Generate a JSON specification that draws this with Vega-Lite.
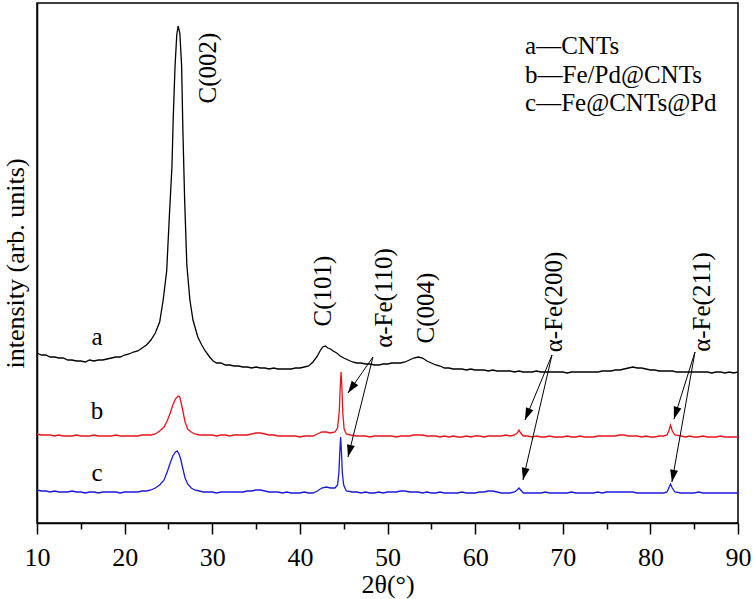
{
  "$schema": "https://vega.github.io/schema/vega-lite/v6.json",
  "width": 701,
  "height": 520,
  "autosize": {"type": "none"},
  "padding": {"left": 37, "top": 3, "right": 15, "bottom": 76},
  "background": "white",
  "config": {
    "font": "Liberation Serif",
    "view": {"stroke": "#000", "strokeWidth": 1.5},
    "axis": {"labelFont": "Liberation Serif", "titleFont": "Liberation Serif", "labelColor": "#000", "titleColor": "#000", "domainColor": "#000", "tickColor": "#000", "titleFontWeight": "normal"}
  },
  "datasets": {
    "curves": [
      {"s":"a","x":10.0,"y":170},{"s":"a","x":10.5,"y":168},{"s":"a","x":11.0,"y":168},{"s":"a","x":11.5,"y":166},{"s":"a","x":12.0,"y":166},{"s":"a","x":12.5,"y":165},{"s":"a","x":13.0,"y":165},{"s":"a","x":13.5,"y":163},{"s":"a","x":14.0,"y":163},{"s":"a","x":14.5,"y":162},{"s":"a","x":15.0,"y":162},{"s":"a","x":15.5,"y":161},{"s":"a","x":16.0,"y":163},{"s":"a","x":16.5,"y":162},{"s":"a","x":17.0,"y":163},{"s":"a","x":17.5,"y":163},{"s":"a","x":18.0,"y":164},{"s":"a","x":18.5,"y":165},{"s":"a","x":19.0,"y":166},{"s":"a","x":19.5,"y":166},{"s":"a","x":20.0,"y":168},{"s":"a","x":20.5,"y":169},{"s":"a","x":21.0,"y":171},{"s":"a","x":21.5,"y":172},{"s":"a","x":22.0,"y":175},{"s":"a","x":22.5,"y":178},{"s":"a","x":23.0,"y":183},{"s":"a","x":23.5,"y":190},{"s":"a","x":24.0,"y":201},{"s":"a","x":24.4,"y":223},{"s":"a","x":24.8,"y":252},{"s":"a","x":25.1,"y":306},{"s":"a","x":25.4,"y":356},{"s":"a","x":25.55,"y":406},{"s":"a","x":25.75,"y":456},{"s":"a","x":25.95,"y":488},{"s":"a","x":26.1,"y":497},{"s":"a","x":26.3,"y":490},{"s":"a","x":26.5,"y":458},{"s":"a","x":26.65,"y":392},{"s":"a","x":26.85,"y":323},{"s":"a","x":27.1,"y":258},{"s":"a","x":27.45,"y":223},{"s":"a","x":27.8,"y":203},{"s":"a","x":28.35,"y":186},{"s":"a","x":28.8,"y":178},{"s":"a","x":29.2,"y":172},{"s":"a","x":29.7,"y":166},{"s":"a","x":30.1,"y":162},{"s":"a","x":30.5,"y":160},{"s":"a","x":31.0,"y":160},{"s":"a","x":31.5,"y":158},{"s":"a","x":32.0,"y":158},{"s":"a","x":32.5,"y":157},{"s":"a","x":33.0,"y":157},{"s":"a","x":33.5,"y":156},{"s":"a","x":34.0,"y":156},{"s":"a","x":34.5,"y":155},{"s":"a","x":35.0,"y":156},{"s":"a","x":35.5,"y":155},{"s":"a","x":36.0,"y":155},{"s":"a","x":36.5,"y":154},{"s":"a","x":37.0,"y":155},{"s":"a","x":37.5,"y":154},{"s":"a","x":38.0,"y":154},{"s":"a","x":38.5,"y":154},{"s":"a","x":39.0,"y":154},{"s":"a","x":39.5,"y":155},{"s":"a","x":40.0,"y":155},{"s":"a","x":40.5,"y":156},{"s":"a","x":41.0,"y":157},{"s":"a","x":41.5,"y":161},{"s":"a","x":42.0,"y":167},{"s":"a","x":42.3,"y":172},{"s":"a","x":42.6,"y":176},{"s":"a","x":42.9,"y":177},{"s":"a","x":43.2,"y":175},{"s":"a","x":43.5,"y":174},{"s":"a","x":43.8,"y":172},{"s":"a","x":44.2,"y":170},{"s":"a","x":44.6,"y":167},{"s":"a","x":45.0,"y":165},{"s":"a","x":45.5,"y":163},{"s":"a","x":46.0,"y":161},{"s":"a","x":46.5,"y":160},{"s":"a","x":47.0,"y":160},{"s":"a","x":47.5,"y":159},{"s":"a","x":48.0,"y":159},{"s":"a","x":48.5,"y":158},{"s":"a","x":49.0,"y":158},{"s":"a","x":49.5,"y":159},{"s":"a","x":50.0,"y":159},{"s":"a","x":50.5,"y":160},{"s":"a","x":51.0,"y":160},{"s":"a","x":51.5,"y":160},{"s":"a","x":52.0,"y":161},{"s":"a","x":52.5,"y":163},{"s":"a","x":53.0,"y":165},{"s":"a","x":53.5,"y":166},{"s":"a","x":54.0,"y":165},{"s":"a","x":54.5,"y":162},{"s":"a","x":55.0,"y":160},{"s":"a","x":55.5,"y":158},{"s":"a","x":56.0,"y":157},{"s":"a","x":56.5,"y":155},{"s":"a","x":57.0,"y":155},{"s":"a","x":57.5,"y":154},{"s":"a","x":58.0,"y":154},{"s":"a","x":58.5,"y":154},{"s":"a","x":59.0,"y":153},{"s":"a","x":59.5,"y":154},{"s":"a","x":60.0,"y":153},{"s":"a","x":60.5,"y":153},{"s":"a","x":61.0,"y":153},{"s":"a","x":61.5,"y":152},{"s":"a","x":62.0,"y":153},{"s":"a","x":62.5,"y":152},{"s":"a","x":63.0,"y":152},{"s":"a","x":63.5,"y":152},{"s":"a","x":64.0,"y":152},{"s":"a","x":64.5,"y":151},{"s":"a","x":65.0,"y":152},{"s":"a","x":65.5,"y":151},{"s":"a","x":66.0,"y":151},{"s":"a","x":66.5,"y":151},{"s":"a","x":67.0,"y":152},{"s":"a","x":67.5,"y":151},{"s":"a","x":68.0,"y":151},{"s":"a","x":68.5,"y":151},{"s":"a","x":69.0,"y":151},{"s":"a","x":69.5,"y":151},{"s":"a","x":70.0,"y":151},{"s":"a","x":70.5,"y":150},{"s":"a","x":71.0,"y":151},{"s":"a","x":71.5,"y":151},{"s":"a","x":72.0,"y":151},{"s":"a","x":72.5,"y":151},{"s":"a","x":73.0,"y":151},{"s":"a","x":73.5,"y":151},{"s":"a","x":74.0,"y":151},{"s":"a","x":74.5,"y":152},{"s":"a","x":75.0,"y":152},{"s":"a","x":75.5,"y":152},{"s":"a","x":76.0,"y":153},{"s":"a","x":76.5,"y":153},{"s":"a","x":77.0,"y":154},{"s":"a","x":77.5,"y":155},{"s":"a","x":78.0,"y":156},{"s":"a","x":78.5,"y":155},{"s":"a","x":79.0,"y":155},{"s":"a","x":79.5,"y":154},{"s":"a","x":80.0,"y":153},{"s":"a","x":80.5,"y":153},{"s":"a","x":81.0,"y":152},{"s":"a","x":81.5,"y":152},{"s":"a","x":82.0,"y":152},{"s":"a","x":82.5,"y":152},{"s":"a","x":83.0,"y":151},{"s":"a","x":83.5,"y":151},{"s":"a","x":84.0,"y":151},{"s":"a","x":84.5,"y":151},{"s":"a","x":85.0,"y":151},{"s":"a","x":85.5,"y":151},{"s":"a","x":86.0,"y":151},{"s":"a","x":86.5,"y":151},{"s":"a","x":87.0,"y":150},{"s":"a","x":87.5,"y":151},{"s":"a","x":88.0,"y":151},{"s":"a","x":88.5,"y":150},{"s":"a","x":89.0,"y":151},{"s":"a","x":89.5,"y":150},{"s":"a","x":90.0,"y":151},

      {"s":"b","x":10.0,"y":89},{"s":"b","x":10.5,"y":88},{"s":"b","x":11.0,"y":88},{"s":"b","x":11.5,"y":88},{"s":"b","x":12.0,"y":87},{"s":"b","x":12.5,"y":88},{"s":"b","x":13.0,"y":87},{"s":"b","x":13.5,"y":87},{"s":"b","x":14.0,"y":87},{"s":"b","x":14.5,"y":88},{"s":"b","x":15.0,"y":87},{"s":"b","x":15.5,"y":87},{"s":"b","x":16.0,"y":87},{"s":"b","x":16.5,"y":88},{"s":"b","x":17.0,"y":87},{"s":"b","x":17.5,"y":87},{"s":"b","x":18.0,"y":87},{"s":"b","x":18.5,"y":87},{"s":"b","x":19.0,"y":88},{"s":"b","x":19.5,"y":87},{"s":"b","x":20.0,"y":87},{"s":"b","x":20.5,"y":87},{"s":"b","x":21.0,"y":87},{"s":"b","x":21.5,"y":87},{"s":"b","x":22.0,"y":88},{"s":"b","x":22.5,"y":88},{"s":"b","x":23.0,"y":88},{"s":"b","x":23.5,"y":89},{"s":"b","x":24.0,"y":92},{"s":"b","x":24.5,"y":96},{"s":"b","x":24.9,"y":103},{"s":"b","x":25.2,"y":110},{"s":"b","x":25.5,"y":118},{"s":"b","x":25.8,"y":124},{"s":"b","x":26.1,"y":127},{"s":"b","x":26.3,"y":126},{"s":"b","x":26.6,"y":114},{"s":"b","x":26.9,"y":101},{"s":"b","x":27.2,"y":94},{"s":"b","x":27.6,"y":91},{"s":"b","x":28.0,"y":89},{"s":"b","x":28.5,"y":88},{"s":"b","x":29.0,"y":88},{"s":"b","x":29.5,"y":88},{"s":"b","x":30.0,"y":88},{"s":"b","x":30.5,"y":87},{"s":"b","x":31.0,"y":88},{"s":"b","x":31.5,"y":88},{"s":"b","x":32.0,"y":87},{"s":"b","x":32.5,"y":88},{"s":"b","x":33.0,"y":88},{"s":"b","x":33.5,"y":88},{"s":"b","x":34.0,"y":88},{"s":"b","x":34.5,"y":89},{"s":"b","x":35.0,"y":90},{"s":"b","x":35.5,"y":90},{"s":"b","x":36.0,"y":89},{"s":"b","x":36.5,"y":88},{"s":"b","x":37.0,"y":88},{"s":"b","x":37.5,"y":87},{"s":"b","x":38.0,"y":87},{"s":"b","x":38.5,"y":87},{"s":"b","x":39.0,"y":87},{"s":"b","x":39.5,"y":87},{"s":"b","x":40.0,"y":86},{"s":"b","x":40.5,"y":87},{"s":"b","x":41.0,"y":87},{"s":"b","x":41.5,"y":87},{"s":"b","x":42.0,"y":89},{"s":"b","x":42.5,"y":91},{"s":"b","x":43.0,"y":91},{"s":"b","x":43.5,"y":90},{"s":"b","x":44.0,"y":91},{"s":"b","x":44.3,"y":95},{"s":"b","x":44.5,"y":112},{"s":"b","x":44.6,"y":135},{"s":"b","x":44.7,"y":151},{"s":"b","x":44.8,"y":135},{"s":"b","x":44.9,"y":110},{"s":"b","x":45.05,"y":94},{"s":"b","x":45.3,"y":89},{"s":"b","x":45.8,"y":88},{"s":"b","x":46.5,"y":87},{"s":"b","x":47.0,"y":87},{"s":"b","x":47.5,"y":87},{"s":"b","x":48.0,"y":86},{"s":"b","x":48.5,"y":87},{"s":"b","x":49.0,"y":87},{"s":"b","x":49.5,"y":87},{"s":"b","x":50.0,"y":87},{"s":"b","x":50.5,"y":87},{"s":"b","x":51.0,"y":86},{"s":"b","x":51.5,"y":87},{"s":"b","x":52.0,"y":87},{"s":"b","x":52.5,"y":87},{"s":"b","x":53.0,"y":88},{"s":"b","x":53.5,"y":88},{"s":"b","x":54.0,"y":88},{"s":"b","x":54.5,"y":87},{"s":"b","x":55.0,"y":87},{"s":"b","x":55.5,"y":87},{"s":"b","x":56.0,"y":86},{"s":"b","x":56.5,"y":87},{"s":"b","x":57.0,"y":86},{"s":"b","x":57.5,"y":87},{"s":"b","x":58.0,"y":86},{"s":"b","x":58.5,"y":86},{"s":"b","x":59.0,"y":87},{"s":"b","x":59.5,"y":86},{"s":"b","x":60.0,"y":87},{"s":"b","x":60.5,"y":87},{"s":"b","x":61.0,"y":86},{"s":"b","x":61.5,"y":87},{"s":"b","x":62.0,"y":87},{"s":"b","x":62.5,"y":87},{"s":"b","x":63.0,"y":87},{"s":"b","x":63.5,"y":88},{"s":"b","x":64.0,"y":87},{"s":"b","x":64.5,"y":88},{"s":"b","x":64.8,"y":90},{"s":"b","x":65.0,"y":93},{"s":"b","x":65.2,"y":90},{"s":"b","x":65.5,"y":87},{"s":"b","x":66.0,"y":87},{"s":"b","x":66.5,"y":86},{"s":"b","x":67.0,"y":87},{"s":"b","x":67.5,"y":86},{"s":"b","x":68.0,"y":86},{"s":"b","x":68.5,"y":87},{"s":"b","x":69.0,"y":86},{"s":"b","x":69.5,"y":86},{"s":"b","x":70.0,"y":86},{"s":"b","x":70.5,"y":87},{"s":"b","x":71.0,"y":86},{"s":"b","x":71.5,"y":86},{"s":"b","x":72.0,"y":87},{"s":"b","x":72.5,"y":86},{"s":"b","x":73.0,"y":86},{"s":"b","x":73.5,"y":86},{"s":"b","x":74.0,"y":87},{"s":"b","x":74.5,"y":87},{"s":"b","x":75.0,"y":87},{"s":"b","x":75.5,"y":87},{"s":"b","x":76.0,"y":87},{"s":"b","x":76.5,"y":88},{"s":"b","x":77.0,"y":88},{"s":"b","x":77.5,"y":87},{"s":"b","x":78.0,"y":87},{"s":"b","x":78.5,"y":87},{"s":"b","x":79.0,"y":86},{"s":"b","x":79.5,"y":87},{"s":"b","x":80.0,"y":86},{"s":"b","x":80.5,"y":86},{"s":"b","x":81.0,"y":87},{"s":"b","x":81.5,"y":87},{"s":"b","x":81.9,"y":88},{"s":"b","x":82.1,"y":92},{"s":"b","x":82.3,"y":98},{"s":"b","x":82.5,"y":92},{"s":"b","x":82.8,"y":88},{"s":"b","x":83.5,"y":87},{"s":"b","x":84.0,"y":86},{"s":"b","x":84.5,"y":87},{"s":"b","x":85.0,"y":86},{"s":"b","x":85.5,"y":86},{"s":"b","x":86.0,"y":87},{"s":"b","x":86.5,"y":86},{"s":"b","x":87.0,"y":86},{"s":"b","x":87.5,"y":86},{"s":"b","x":88.0,"y":87},{"s":"b","x":88.5,"y":86},{"s":"b","x":89.0,"y":86},{"s":"b","x":89.5,"y":86},{"s":"b","x":90.0,"y":86},

      {"s":"c","x":10.0,"y":33},{"s":"c","x":10.5,"y":32},{"s":"c","x":11.0,"y":32},{"s":"c","x":11.5,"y":31},{"s":"c","x":12.0,"y":32},{"s":"c","x":12.5,"y":31},{"s":"c","x":13.0,"y":31},{"s":"c","x":13.5,"y":31},{"s":"c","x":14.0,"y":32},{"s":"c","x":14.5,"y":31},{"s":"c","x":15.0,"y":31},{"s":"c","x":15.5,"y":30},{"s":"c","x":16.0,"y":31},{"s":"c","x":16.5,"y":31},{"s":"c","x":17.0,"y":30},{"s":"c","x":17.5,"y":31},{"s":"c","x":18.0,"y":31},{"s":"c","x":18.5,"y":31},{"s":"c","x":19.0,"y":31},{"s":"c","x":19.5,"y":30},{"s":"c","x":20.0,"y":31},{"s":"c","x":20.5,"y":31},{"s":"c","x":21.0,"y":31},{"s":"c","x":21.5,"y":31},{"s":"c","x":22.0,"y":32},{"s":"c","x":22.5,"y":32},{"s":"c","x":23.0,"y":33},{"s":"c","x":23.5,"y":35},{"s":"c","x":24.0,"y":38},{"s":"c","x":24.5,"y":43},{"s":"c","x":24.9,"y":52},{"s":"c","x":25.2,"y":60},{"s":"c","x":25.5,"y":67},{"s":"c","x":25.8,"y":71},{"s":"c","x":26.0,"y":72},{"s":"c","x":26.2,"y":69},{"s":"c","x":26.4,"y":64},{"s":"c","x":26.6,"y":56},{"s":"c","x":26.9,"y":45},{"s":"c","x":27.2,"y":39},{"s":"c","x":27.6,"y":35},{"s":"c","x":28.0,"y":33},{"s":"c","x":28.5,"y":32},{"s":"c","x":29.0,"y":31},{"s":"c","x":29.5,"y":31},{"s":"c","x":30.0,"y":31},{"s":"c","x":30.5,"y":30},{"s":"c","x":31.0,"y":31},{"s":"c","x":31.5,"y":31},{"s":"c","x":32.0,"y":31},{"s":"c","x":32.5,"y":31},{"s":"c","x":33.0,"y":31},{"s":"c","x":33.5,"y":31},{"s":"c","x":34.0,"y":32},{"s":"c","x":34.5,"y":32},{"s":"c","x":35.0,"y":33},{"s":"c","x":35.5,"y":33},{"s":"c","x":36.0,"y":32},{"s":"c","x":36.5,"y":31},{"s":"c","x":37.0,"y":31},{"s":"c","x":37.5,"y":31},{"s":"c","x":38.0,"y":30},{"s":"c","x":38.5,"y":31},{"s":"c","x":39.0,"y":30},{"s":"c","x":39.5,"y":30},{"s":"c","x":40.0,"y":30},{"s":"c","x":40.5,"y":31},{"s":"c","x":41.0,"y":30},{"s":"c","x":41.5,"y":30},{"s":"c","x":42.0,"y":32},{"s":"c","x":42.5,"y":35},{"s":"c","x":43.0,"y":36},{"s":"c","x":43.5,"y":35},{"s":"c","x":44.0,"y":35},{"s":"c","x":44.3,"y":38},{"s":"c","x":44.45,"y":50},{"s":"c","x":44.55,"y":70},{"s":"c","x":44.65,"y":86},{"s":"c","x":44.75,"y":70},{"s":"c","x":44.85,"y":50},{"s":"c","x":45.0,"y":38},{"s":"c","x":45.3,"y":32},{"s":"c","x":46.0,"y":31},{"s":"c","x":46.5,"y":31},{"s":"c","x":47.0,"y":30},{"s":"c","x":47.5,"y":31},{"s":"c","x":48.0,"y":30},{"s":"c","x":48.5,"y":30},{"s":"c","x":49.0,"y":31},{"s":"c","x":49.5,"y":30},{"s":"c","x":50.0,"y":31},{"s":"c","x":50.5,"y":31},{"s":"c","x":51.0,"y":31},{"s":"c","x":51.5,"y":32},{"s":"c","x":52.0,"y":32},{"s":"c","x":52.5,"y":31},{"s":"c","x":53.0,"y":31},{"s":"c","x":53.5,"y":31},{"s":"c","x":54.0,"y":30},{"s":"c","x":54.5,"y":31},{"s":"c","x":55.0,"y":30},{"s":"c","x":55.5,"y":30},{"s":"c","x":56.0,"y":31},{"s":"c","x":56.5,"y":30},{"s":"c","x":57.0,"y":30},{"s":"c","x":57.5,"y":30},{"s":"c","x":58.0,"y":30},{"s":"c","x":58.5,"y":31},{"s":"c","x":59.0,"y":30},{"s":"c","x":59.5,"y":30},{"s":"c","x":60.0,"y":30},{"s":"c","x":60.5,"y":31},{"s":"c","x":61.0,"y":31},{"s":"c","x":61.5,"y":32},{"s":"c","x":62.0,"y":32},{"s":"c","x":62.5,"y":31},{"s":"c","x":63.0,"y":30},{"s":"c","x":63.5,"y":30},{"s":"c","x":64.0,"y":30},{"s":"c","x":64.5,"y":31},{"s":"c","x":64.8,"y":33},{"s":"c","x":65.0,"y":35},{"s":"c","x":65.2,"y":33},{"s":"c","x":65.5,"y":30},{"s":"c","x":66.0,"y":30},{"s":"c","x":66.5,"y":30},{"s":"c","x":67.0,"y":30},{"s":"c","x":67.5,"y":30},{"s":"c","x":68.0,"y":31},{"s":"c","x":68.5,"y":30},{"s":"c","x":69.0,"y":30},{"s":"c","x":69.5,"y":30},{"s":"c","x":70.0,"y":30},{"s":"c","x":70.5,"y":30},{"s":"c","x":71.0,"y":31},{"s":"c","x":71.5,"y":30},{"s":"c","x":72.0,"y":30},{"s":"c","x":72.5,"y":30},{"s":"c","x":73.0,"y":30},{"s":"c","x":73.5,"y":30},{"s":"c","x":74.0,"y":31},{"s":"c","x":74.5,"y":30},{"s":"c","x":75.0,"y":31},{"s":"c","x":75.5,"y":31},{"s":"c","x":76.0,"y":31},{"s":"c","x":76.5,"y":31},{"s":"c","x":77.0,"y":31},{"s":"c","x":77.5,"y":31},{"s":"c","x":78.0,"y":31},{"s":"c","x":78.5,"y":30},{"s":"c","x":79.0,"y":30},{"s":"c","x":79.5,"y":30},{"s":"c","x":80.0,"y":30},{"s":"c","x":80.5,"y":30},{"s":"c","x":81.0,"y":30},{"s":"c","x":81.5,"y":30},{"s":"c","x":81.9,"y":31},{"s":"c","x":82.1,"y":35},{"s":"c","x":82.3,"y":39},{"s":"c","x":82.5,"y":35},{"s":"c","x":82.8,"y":31},{"s":"c","x":83.5,"y":30},{"s":"c","x":84.0,"y":30},{"s":"c","x":84.5,"y":30},{"s":"c","x":85.0,"y":30},{"s":"c","x":85.5,"y":31},{"s":"c","x":86.0,"y":30},{"s":"c","x":86.5,"y":30},{"s":"c","x":87.0,"y":30},{"s":"c","x":87.5,"y":30},{"s":"c","x":88.0,"y":30},{"s":"c","x":88.5,"y":30},{"s":"c","x":89.0,"y":30},{"s":"c","x":89.5,"y":30},{"s":"c","x":90.0,"y":30}
    ],
    "arrows": [
      {"x":48.34,"y":166,"x2":45.49,"y2":130,"a":214.8},
      {"x":48.34,"y":166,"x2":45.49,"y2":66,"a":194},
      {"x":68.77,"y":168,"x2":65.69,"y2":103,"a":202.6},
      {"x":68.77,"y":168,"x2":65.46,"y2":43,"a":193.1},
      {"x":85.09,"y":171,"x2":82.69,"y2":104,"a":197.4},
      {"x":85.09,"y":171,"x2":82.46,"y2":41,"a":190}
    ],
    "peaks": [
      {"t":"C(002)","x":29.5,"y":455},
      {"t":"C(101)","x":42.6,"y":232},
      {"t":"α-Fe(110)","x":49.6,"y":225},
      {"t":"C(004)","x":54.4,"y":215},
      {"t":"α-Fe(200)","x":69.0,"y":221},
      {"t":"α-Fe(211)","x":85.9,"y":221}
    ],
    "curvenames": [
      {"t":"a","x":16.85,"y":186},
      {"t":"b","x":16.85,"y":112},
      {"t":"c","x":16.85,"y":50}
    ],
    "key": [
      {"t":"a—CNTs","x":65.7,"y":477},
      {"t":"b—Fe/Pd@CNTs","x":65.7,"y":448},
      {"t":"c—Fe@CNTs@Pd","x":65.7,"y":420}
    ]
  },
  "encoding": {
    "x": {
      "field": "x", "type": "quantitative",
      "scale": {"domain": [10, 90], "nice": false, "zero": false},
      "axis": {
        "title": "2θ(°)",
        "values": [10,15,20,25,30,35,40,45,50,55,60,65,70,75,80,85,90],
        "labelExpr": "datum.value % 10 === 0 ? datum.label : ''",
        "tickSize": {"condition": {"test": "datum.value % 10 === 0", "value": 11}, "value": 6},
        "tickWidth": 1.5,
        "domainWidth": 1.5,
        "labelFont": "Liberation Serif",
        "labelFontSize": 26,
        "labelPadding": 10,
        "labelFlush": false,
        "labelOverlap": false,
        "titleFont": "Liberation Serif",
        "titleFontSize": 26,
        "titlePadding": 1,
        "grid": false
      }
    },
    "y": {
      "field": "y", "type": "quantitative",
      "scale": {"domain": [0, 520], "nice": false, "zero": false},
      "axis": {
        "title": "intensity (arb. units)",
        "labels": false, "ticks": false, "grid": false,
        "domainWidth": 1.5,
        "titleFont": "Liberation Serif",
        "titleFontSize": 26,
        "titlePadding": 9
      }
    }
  },
  "layer": [
    {
      "data": {"name": "curves"},
      "mark": {"type": "line", "strokeWidth": 1.3, "interpolate": "linear"},
      "encoding": {
        "color": {"field": "s", "type": "nominal", "legend": null,
          "scale": {"domain": ["a","b","c"], "range": ["#000000","#e8141c","#1a1ad6"]}}
      }
    },
    {
      "data": {"name": "arrows"},
      "mark": {"type": "rule", "color": "#000", "strokeWidth": 1},
      "encoding": {"x2": {"field": "x2"}, "y2": {"field": "y2"}}
    },
    {
      "data": {"name": "arrows"},
      "mark": {"type": "point", "shape": "M0,0L-0.65,2L0.65,2Z", "filled": true, "color": "#000", "opacity": 1, "size": 150},
      "encoding": {
        "x": {"field": "x2", "type": "quantitative"},
        "y": {"field": "y2", "type": "quantitative"},
        "angle": {"field": "a", "type": "quantitative", "scale": null}
      }
    },
    {
      "data": {"name": "peaks"},
      "mark": {"type": "text", "angle": 270, "align": "center", "baseline": "middle", "fontSize": 25, "font": "Liberation Serif", "color": "#000"},
      "encoding": {"text": {"field": "t"}}
    },
    {
      "data": {"name": "curvenames"},
      "mark": {"type": "text", "align": "center", "baseline": "middle", "fontSize": 25, "font": "Liberation Serif", "color": "#000"},
      "encoding": {"text": {"field": "t"}}
    },
    {
      "data": {"name": "key"},
      "mark": {"type": "text", "align": "left", "baseline": "middle", "fontSize": 25, "font": "Liberation Serif", "color": "#000"},
      "encoding": {"text": {"field": "t"}}
    }
  ]
}
